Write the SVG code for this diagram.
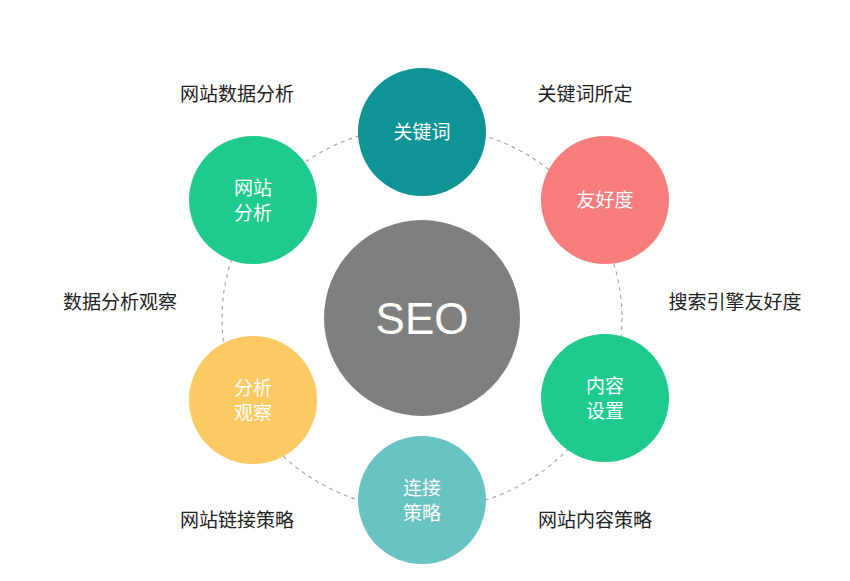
<svg xmlns="http://www.w3.org/2000/svg" width="850" height="581" viewBox="0 0 850 581">
<style>
.lbl{font-family:"Noto Sans CJK SC","Noto Sans",sans-serif;font-size:19px;fill:#222;text-anchor:middle}
.in{font-family:"Noto Sans CJK SC","Noto Sans",sans-serif;font-size:19px;fill:#fff;text-anchor:middle}
</style>
<rect width="850" height="581" fill="#fff"/>
<g id="connectors"><ellipse cx="422" cy="318" rx="200" ry="192" fill="none" stroke="#aaa" stroke-width="1.2" stroke-dasharray="4,4"/></g>
<g id="seo"><circle cx="422" cy="318" r="98" fill="#7f7f7f"/><text x="422" y="334" font-family="Liberation Sans,sans-serif" font-size="44" fill="#fff" text-anchor="middle">SEO</text></g>
<g id="n1"><circle cx="422" cy="132" r="64" fill="#0e9494"/><text class="in" x="422" y="139">关键词</text></g>
<g id="n2"><circle cx="605" cy="200" r="64" fill="#f77c7c"/><text class="in" x="605" y="207">友好度</text></g>
<g id="n3"><circle cx="605" cy="398" r="64" fill="#1ecb8d"/><text class="in" x="605" y="393">内容</text><text class="in" x="605" y="418">设置</text></g>
<g id="n4"><circle cx="422" cy="500" r="64" fill="#6ac3c3"/><text class="in" x="422" y="495">连接</text><text class="in" x="422" y="520">策略</text></g>
<g id="n5"><circle cx="253" cy="400" r="64" fill="#fdc963"/><text class="in" x="253" y="395">分析</text><text class="in" x="253" y="420">观察</text></g>
<g id="n6"><circle cx="253" cy="200" r="64" fill="#1ecb8d"/><text class="in" x="253" y="195">网站</text><text class="in" x="253" y="220">分析</text></g>
<g id="labels">
<text class="lbl" x="237" y="101">网站数据分析</text>
<text class="lbl" x="585" y="101">关键词所定</text>
<text class="lbl" x="120" y="309">数据分析观察</text>
<text class="lbl" x="735" y="309">搜索引擎友好度</text>
<text class="lbl" x="237" y="527">网站链接策略</text>
<text class="lbl" x="595" y="527">网站内容策略</text>
</g>
</svg>
